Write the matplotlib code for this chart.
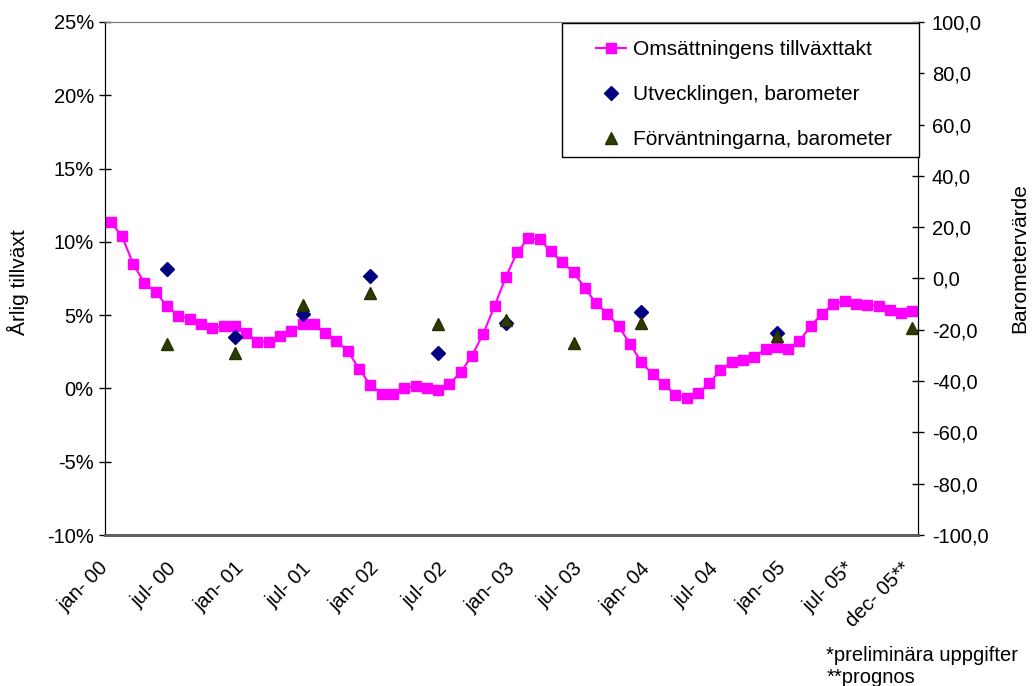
import matplotlib
matplotlib.use('Agg')
import matplotlib.pyplot as plt
from matplotlib.patches import Rectangle
from matplotlib.ticker import FuncFormatter
from matplotlib.transforms import ScaledTranslation

plt.rcParams['font.family'] = ['Liberation Sans', 'DejaVu Sans']

# månadsvis omsättningstillväxt (%), jan 2000 - dec 2005
growth = [11.37, 10.4, 8.49, 7.19, 6.55, 5.62, 4.96, 4.76, 4.41, 4.12,
          4.23, 4.23, 3.80, 3.19, 3.19, 3.57, 3.89, 4.37, 4.37, 3.76,
          3.26, 2.55, 1.35, 0.23, -0.38, -0.38, 0.0, 0.17, 0.0, -0.11,
          0.30, 1.10, 2.23, 3.73, 5.62, 7.60, 9.28, 10.24, 10.17, 9.35,
          8.60, 7.92, 6.85, 5.80, 5.10, 4.23, 3.03, 1.80, 0.96, 0.28,
          -0.44, -0.66, -0.34, 0.34, 1.25, 1.80, 1.94, 2.16, 2.67, 2.82,
          2.71, 3.23, 4.26, 5.10, 5.76, 5.94, 5.74, 5.69, 5.64, 5.37,
          5.14, 5.28]

# barometer (månadsindex)
utv_idx = [5, 11, 17, 23, 29, 35, 47, 59]
utv = [3.7, -22.9, -13.8, 0.9, -28.9, -17.5, -13.1, -21.4]
forv_idx = [5, 11, 17, 23, 29, 35, 41, 47, 59, 71]
forv = [-25.5, -29.2, -10.3, -5.5, -17.9, -16.0, -25.3, -17.2, -22.4, -19.4]

tick_pos = [0, 6, 12, 18, 24, 30, 36, 42, 48, 54, 60, 66, 71]
tick_labels = ['jan- 00', 'jul- 00', 'jan- 01', 'jul- 01', 'jan- 02', 'jul- 02',
               'jan- 03', 'jul- 03', 'jan- 04', 'jul- 04', 'jan- 05', 'jul- 05*',
               'dec- 05**']

fig = plt.figure(figsize=(10.33, 6.86), dpi=100)
ax = fig.add_axes([0.1016, 0.2201, 0.7871, 0.7479])
ax2 = ax.twinx()

months = list(range(len(growth)))
l1, = ax.plot(months, growth, color='#FF00FF', lw=1.5, marker='s', ms=7,
              mec='#FF00FF', label='Omsättningens tillväxttakt')
s1, = ax2.plot(utv_idx, utv, ls='none', marker='D', ms=7.5, color='#000080',
               label='Utvecklingen, barometer')
s2, = ax2.plot(forv_idx, forv, ls='none', marker='^', ms=9, color='#2E3A00',
               mec='#1F3300', label='Förväntningarna, barometer')

ax.set_xlim(-0.5, 71.5)
ax.set_ylim(-10, 25)
ax2.set_ylim(-100, 100)
ax.set_yticks(range(-10, 26, 5))
ax2.set_yticks(range(-100, 101, 20))
ax.yaxis.set_major_formatter(FuncFormatter(lambda v, p: f'{v:.0f}%'))
ax2.yaxis.set_major_formatter(FuncFormatter(lambda v, p: f'{v:.1f}'.replace('.', ',')))

ax.set_xticks(tick_pos)
ax.set_xticklabels(tick_labels, rotation=45, ha='right', rotation_mode='anchor')
ax.tick_params(axis='x', length=0, pad=17, labelsize=14.5)
for lab in ax.get_xticklabels():
    lab.set_transform(lab.get_transform() + ScaledTranslation(-8.5 / 72, 0, fig.dpi_scale_trans))
ax.tick_params(axis='y', direction='inout', length=8, width=1, labelsize=14.5, pad=4)
ax2.tick_params(axis='y', direction='inout', length=8, width=1, labelsize=14.5, pad=6)

for a in (ax, ax2):
    a.spines['left'].set_color('black')
    a.spines['right'].set_color('black')
    a.spines['top'].set_color('#808080')
    a.spines['bottom'].set_color('#606060')
    a.spines['bottom'].set_linewidth(2)

ax.set_ylabel('Årlig tillväxt', fontsize=15)
ax.yaxis.set_label_coords(-0.0935, 0.493)
ax2.set_ylabel('Barometervärde', fontsize=15)
ax2.yaxis.set_label_coords(1.114, 0.54)

# legendruta med vit bakgrund
ax2.add_patch(Rectangle((0.562, 0.737), 0.439, 0.261, transform=ax2.transAxes,
                        facecolor='white', edgecolor='black', lw=1, zorder=4,
                        clip_on=False))
ax2.legend(handles=[l1, s1, s2], loc='upper left', bbox_to_anchor=(0.604, 0.965),
           borderaxespad=0, borderpad=0, frameon=False, fontsize=15,
           labelspacing=1.25, handlelength=1.45, handletextpad=0.3)

fig.text(0.80, 0.036, '*preliminära uppgifter', fontsize=14.5)
fig.text(0.80, 0.004, '**prognos', fontsize=14.5)

fig.savefig('out.png', dpi=100)
